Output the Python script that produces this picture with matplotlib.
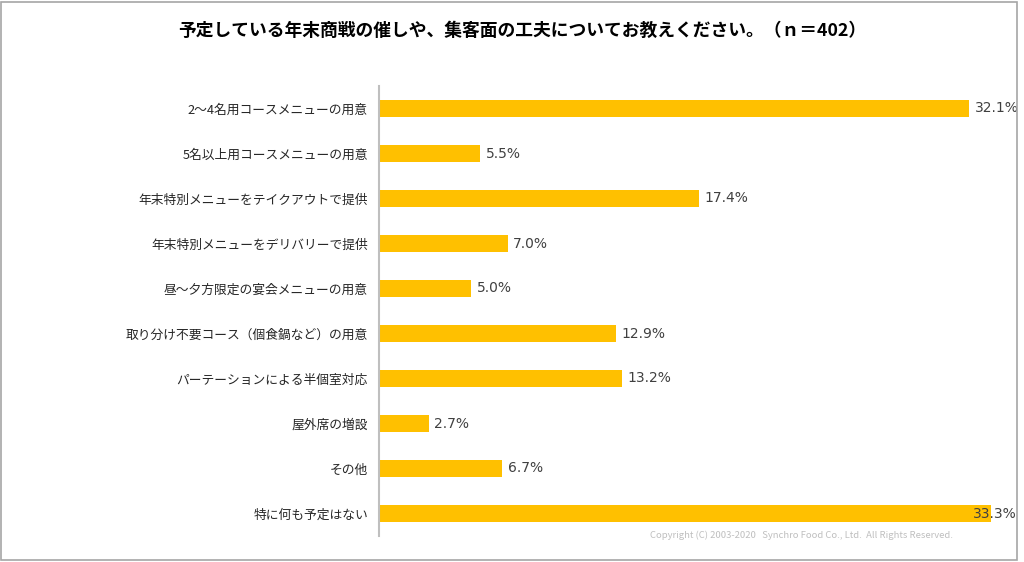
import matplotlib
matplotlib.use("Agg")
import matplotlib.pyplot as plt
from matplotlib.patches import Rectangle

plt.rcParams['font.family'] = ['Noto Sans CJK JP', 'DejaVu Sans']

categories = [
    "2～4名用コースメニューの用意",
    "5名以上用コースメニューの用意",
    "年末特別メニューをテイクアウトで提供",
    "年末特別メニューをデリバリーで提供",
    "昼～夕方限定の宴会メニューの用意",
    "取り分け不要コース（個食鍋など）の用意",
    "パーテーションによる半個室対応",
    "屋外席の増設",
    "その他",
    "特に何も予定はない",
]
values = [32.1, 5.5, 17.4, 7.0, 5.0, 12.9, 13.2, 2.7, 6.7, 33.3]
title = "予定している年末商戦の催しや、集客面の工夫についてお教えください。（ｎ＝402）"
copyright_text = "Copyright (C) 2003-2020   Synchro Food Co., Ltd.  All Rights Reserved."

W, H = 1024, 562
fig = plt.figure(figsize=(W / 100, H / 100), dpi=100)
fig.patch.set_facecolor("white")

# outer border
fig.add_artist(Rectangle((1 / W, 2 / H), 1016 / W, 558 / H, transform=fig.transFigure,
                         fill=False, edgecolor="#A6A6A6", linewidth=1.2))

ax_left, ax_top, ax_bottom = 379, 86, 536
scale = (969 - 379) / 32.1
ax_right = ax_left + scale * 35
ax = fig.add_axes([ax_left / W, 1 - ax_bottom / H, (ax_right - ax_left) / W, (ax_bottom - ax_top) / H])

y = list(range(len(categories)))
ax.barh(y, values, height=0.38, color="#FFC000")
ax.set_ylim(len(categories) - 0.5, -0.5)
ax.set_xlim(0, 35)
ax.set_yticks(y)
ax.set_yticklabels(categories, fontsize=9.2, color="#262626")
ax.tick_params(axis="y", length=0, pad=8)
ax.set_xticks([])
for s in ["top", "right", "bottom"]:
    ax.spines[s].set_visible(False)
ax.spines["left"].set_color("#BFBFBF")
ax.spines["left"].set_linewidth(1.5)

for yi, v in zip(y, values):
    dx = -13 if v > 33 else 4
    ax.annotate(f"{v:.1f}%", (v, yi), xytext=(dx, 0), textcoords="offset points",
                va="center", ha="left", fontsize=10, color="#404040", family=["DejaVu Sans"])

fig.text(522 / W, 1 - 31 / H, title, ha="center", va="center", fontsize=12.8,
         fontweight="bold", color="#000000")
fig.text(802 / W, 1 - 535 / H, copyright_text, ha="center", va="center", fontsize=6.8,
         color="#BFBFBF")

fig.savefig("out.png", dpi=100)
